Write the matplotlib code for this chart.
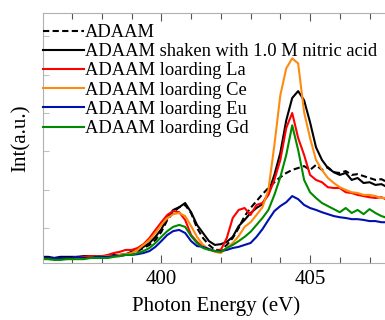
import numpy as np
import matplotlib
matplotlib.use("Agg")
import matplotlib.pyplot as plt
from matplotlib.ticker import MultipleLocator

plt.rcParams["font.family"] = ["Liberation Serif", "DejaVu Serif"]

# photon energy grid (eV), one point every 0.2 eV
energy = [396.0 + 0.2 * k for k in range(60)]

adaam = [0.23, 0.23, 0.23, 0.23, 0.23, 0.23, 0.26, 0.26, 0.26, 0.26,
         0.28, 0.28, 0.28, 0.31, 0.31, 0.36, 0.41, 0.49, 0.57, 0.70,
         0.91, 1.22, 1.42, 1.55, 1.61, 1.40, 1.01, 0.75, 0.57, 0.44,
         0.44, 0.57, 0.75, 1.01, 1.32, 1.53, 1.71, 1.89, 2.05, 2.20,
         2.33, 2.44, 2.52, 2.57, 2.62, 2.52, 2.65, 2.52, 2.59, 2.46,
         2.44, 2.49, 2.39, 2.41, 2.36, 2.31, 2.26, 2.28, 2.20, 2.20]
shaken = [0.26, 0.26, 0.23, 0.26, 0.26, 0.26, 0.26, 0.28, 0.28, 0.28,
          0.28, 0.28, 0.31, 0.31, 0.33, 0.39, 0.44, 0.52, 0.62, 0.78,
          0.98, 1.27, 1.48, 1.55, 1.66, 1.42, 1.09, 0.88, 0.67, 0.57,
          0.59, 0.65, 0.78, 1.06, 1.22, 1.40, 1.53, 1.63, 1.92, 2.39,
          2.96, 3.81, 4.39, 4.57, 4.33, 3.76, 3.11, 2.78, 2.57, 2.46,
          2.39, 2.44, 2.26, 2.31, 2.18, 2.20, 2.13, 2.15, 2.07, 2.10]
la = [0.23, 0.23, 0.20, 0.23, 0.23, 0.23, 0.26, 0.26, 0.28, 0.28,
      0.28, 0.31, 0.36, 0.39, 0.44, 0.44, 0.49, 0.59, 0.75, 0.96,
      1.16, 1.35, 1.45, 1.42, 1.22, 0.83, 0.65, 0.52, 0.46, 0.41,
      0.44, 0.75, 1.27, 1.48, 1.53, 1.35, 1.61, 1.66, 1.87, 2.26,
      2.78, 3.61, 4.00, 3.35, 2.91, 2.39, 2.26, 2.20, 2.07, 2.05,
      2.05, 1.94, 1.92, 1.87, 1.84, 1.81, 1.79, 1.81, 1.74, 1.74]
ce = [0.23, 0.20, 0.20, 0.20, 0.20, 0.23, 0.23, 0.23, 0.23, 0.26,
      0.26, 0.28, 0.28, 0.31, 0.33, 0.36, 0.44, 0.57, 0.70, 0.88,
      1.09, 1.27, 1.37, 1.40, 1.32, 1.06, 0.78, 0.57, 0.46, 0.39,
      0.36, 0.49, 0.62, 0.80, 1.04, 1.16, 1.35, 1.55, 2.00, 3.16,
      4.46, 5.16, 5.42, 5.29, 4.02, 3.35, 2.78, 2.52, 2.31, 2.18,
      2.07, 2.00, 1.94, 1.92, 1.87, 1.87, 1.84, 1.79, 1.79, 1.74]
eu = [0.23, 0.23, 0.23, 0.23, 0.23, 0.23, 0.26, 0.23, 0.23, 0.26,
      0.26, 0.26, 0.28, 0.28, 0.31, 0.31, 0.33, 0.36, 0.41, 0.52,
      0.67, 0.83, 0.93, 0.96, 0.88, 0.67, 0.54, 0.52, 0.46, 0.41,
      0.41, 0.44, 0.49, 0.52, 0.57, 0.62, 0.78, 0.98, 1.22, 1.45,
      1.58, 1.68, 1.84, 1.76, 1.61, 1.53, 1.48, 1.42, 1.37, 1.32,
      1.29, 1.27, 1.24, 1.24, 1.22, 1.19, 1.19, 1.16, 1.16, 1.14]
gd = [0.20, 0.20, 0.18, 0.18, 0.20, 0.20, 0.20, 0.20, 0.23, 0.23,
      0.23, 0.23, 0.26, 0.28, 0.31, 0.31, 0.36, 0.41, 0.49, 0.62,
      0.78, 0.93, 1.04, 1.09, 1.04, 0.80, 0.62, 0.49, 0.44, 0.41,
      0.39, 0.49, 0.57, 0.67, 0.78, 0.91, 1.09, 1.27, 1.48, 1.87,
      2.33, 2.91, 3.68, 3.04, 2.26, 1.94, 1.79, 1.66, 1.58, 1.50,
      1.42, 1.53, 1.40, 1.48, 1.37, 1.50, 1.40, 1.32, 1.27, 1.29]

series = [
    ("ADAAM", adaam, "black", (0, (3, 1.6))),
    ("ADAAM shaken with 1.0 M nitric acid", shaken, "black", "-"),
    ("ADAAM loarding La", la, "#ff0000", "-"),
    ("ADAAM loarding Ce", ce, "#ff8a10", "-"),
    ("ADAAM loarding Eu", eu, "#0010b0", "-"),
    ("ADAAM loarding Gd", gd, "#008a00", "-"),
]

fig = plt.figure(figsize=(3.85, 3.2), dpi=100)
ax = fig.add_axes([43 / 385, 57 / 320, 1.0 - 43 / 385 + 0.01, 250 / 320])

for label, vals, color, ls in series:
    ax.plot(energy, vals, color=color, linestyle=ls, linewidth=1.5, label=label)

ax.set_xlim(396.02, 407.65)
ax.set_ylim(0.1, 6.6)
ax.xaxis.set_major_locator(MultipleLocator(5))
ax.xaxis.set_minor_locator(MultipleLocator(1))
ax.set_yticks([1, 2, 3, 4, 5, 6])
ax.set_yticklabels([])

for side in ["left", "top", "bottom"]:
    ax.spines[side].set_color("#b0b0b0")
    ax.spines[side].set_linewidth(0.8)
ax.spines["right"].set_visible(False)

ax.tick_params(axis="x", which="both", direction="in", top=True, color="#555555",
               labelsize=15, pad=5)
ax.tick_params(axis="x", which="major", length=6, width=0.8)
ax.tick_params(axis="x", which="minor", length=4, width=0.8)
ax.tick_params(axis="y", which="both", direction="in", length=4, width=0.8,
               color="#c0c0c0")

ax.set_xlabel("Photon Energy (eV)", fontsize=15, labelpad=5)
ax.set_ylabel("Int(a.u.)", fontsize=15, labelpad=5)

ax.legend(loc="upper left", bbox_to_anchor=(0, 1 - 11 / 250), borderaxespad=0,
          borderpad=0, frameon=False, fontsize=13.3, handlelength=2.2,
          handletextpad=0.05, labelspacing=0.12)

fig.savefig("out.png", dpi=100)
